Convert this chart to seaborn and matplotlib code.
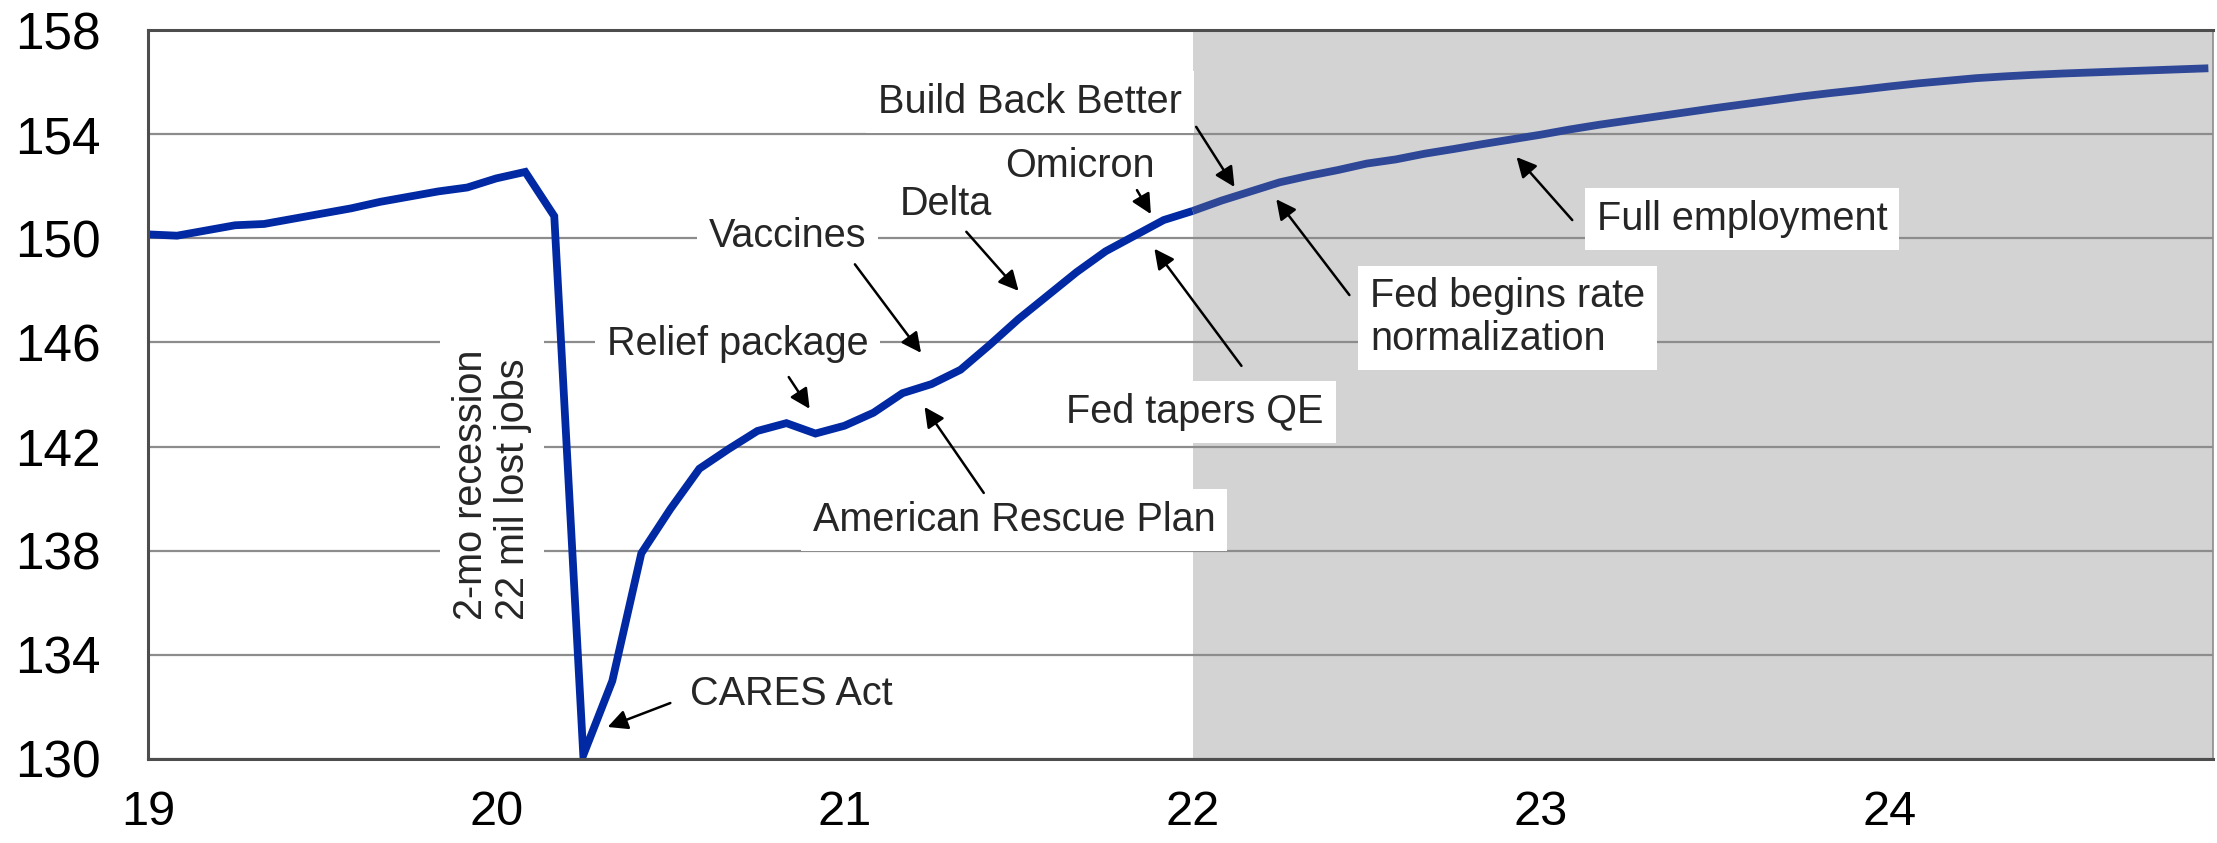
import matplotlib
matplotlib.use("Agg")
import matplotlib.pyplot as plt
import numpy as np
import pandas as pd
import seaborn as sns

# monthly payroll employment, millions (actual through 2021, projection after)
months = pd.period_range("2019-01", "2024-12", freq="M")
jobs_2019 = [150.15, 150.1, 150.3, 150.5, 150.55, 150.75, 150.95, 151.15, 151.4, 151.6, 151.8, 151.95]
jobs_2020 = [152.3, 152.55, 150.85, 130.15, 133.0, 137.9, 139.6, 141.15, 141.9, 142.6, 142.9, 142.5]
jobs_2021 = [142.8, 143.3, 144.05, 144.4, 144.95, 145.9, 146.9, 147.8, 148.7, 149.5, 150.1, 150.7]
jobs_2022 = [151.05, 151.45, 151.8, 152.15, 152.4, 152.62, 152.87, 153.03, 153.25, 153.43, 153.62, 153.8]
jobs_2023 = [153.98, 154.18, 154.36, 154.52, 154.68, 154.84, 155.0, 155.15, 155.3, 155.45, 155.58, 155.7]
jobs_2024 = [155.83, 155.95, 156.05, 156.15, 156.22, 156.28, 156.33, 156.37, 156.41, 156.45, 156.49, 156.53]
forecast_start = 22.0

y_ticks = [130, 134, 138, 142, 146, 150, 154, 158]
x_ticks = [19, 20, 21, 22, 23, 24]

# (label, text x, baseline y of last line, arrow from, arrow to)
events = [
    ("Build Back Better", 21.096, 154.81, (22.01, 154.28), (22.12, 151.97)),
    ("Omicron", 21.46, 152.35, (21.84, 151.85), (21.88, 150.93)),
    ("Delta", 21.16, 150.91, (21.35, 150.25), (21.50, 147.98)),
    ("Vaccines", 20.61, 149.67, (21.03, 149.0), (21.22, 145.6)),
    ("Relief package", 20.318, 145.5, (20.84, 144.67), (20.90, 143.45)),
    ("American Rescue Plan", 20.909, 138.77, (21.40, 140.22), (21.23, 143.52)),
    ("CARES Act", 20.556, 132.09, (20.50, 132.15), (20.32, 131.23)),
    ("Fed tapers QE", 21.637, 142.91, (22.14, 145.1), (21.89, 149.6)),
    ("Fed begins rate\nnormalization", 22.51, 145.71, (22.45, 147.82), (22.24, 151.5)),
    ("Full employment", 23.16, 150.32, (23.09, 150.7), (22.93, 153.12)),
]
boxed = {"Build Back Better", "Vaccines", "Relief package", "American Rescue Plan",
         "Fed tapers QE", "Fed begins rate\nnormalization", "Full employment"}

sns.set_style("white")
plt.rcParams["font.family"] = ["Liberation Sans", "DejaVu Sans"]

values = jobs_2019 + jobs_2020 + jobs_2021 + jobs_2022 + jobs_2023 + jobs_2024
x = np.array([p.year - 2000 + (p.month - 1) / 12 for p in months])
df = pd.DataFrame({"x": x, "jobs": values})
actual = df[df["x"] <= forecast_start].assign(segment="actual")
proj = df[df["x"] >= forecast_start].assign(segment="projection")
plot_df = pd.concat([actual, proj], ignore_index=True)

fig = plt.figure(figsize=(22.17, 8.43), dpi=100)
ax = fig.add_axes([148 / 2217, 1 - 759 / 843, (2213 - 148) / 2217, (759 - 30) / 843])

xmax = 24.93
ax.axvspan(forecast_start, xmax, color="#d3d3d3", zorder=0.2, lw=0)

sns.lineplot(data=plot_df, x="x", y="jobs", hue="segment", units="segment",
             estimator=None, sort=False, legend=False,
             palette={"actual": "#0029a3", "projection": "#2e4797"},
             linewidth=5.6, ax=ax, zorder=2)
for ln in ax.get_lines():
    ln.set_solid_joinstyle("miter")
    ln.set_solid_capstyle("butt")

ax.set_xlim(19, xmax)
ax.set_ylim(130, 158)
ax.set_xticks(x_ticks)
ax.set_xticklabels([str(t) for t in x_ticks])
ax.set_yticks(y_ticks)
ax.set_xlabel("")
ax.set_ylabel("")
ax.set_axisbelow(True)
ax.yaxis.grid(True, color="#8c8c8c", linewidth=1.6)
ax.xaxis.grid(False)

for side in ("left", "bottom", "top"):
    ax.spines[side].set_color("#4d4d4d")
    ax.spines[side].set_linewidth(2.2)
ax.spines["right"].set_color("#8c8c8c")
ax.spines["right"].set_linewidth(1.2)

ax.tick_params(axis="both", direction="inout", length=22, width=2,
               color="#4d4d4d", labelcolor="black")
ax.tick_params(axis="y", pad=23, labelsize=37)
ax.tick_params(axis="x", pad=11, labelsize=35)

box = dict(boxstyle="square,pad=0.3", facecolor="white", edgecolor="none")
for label, tx, ty, start, end in events:
    ax.text(tx, ty, label, fontsize=28.5, ha="left", va="baseline",
            linespacing=1.15, zorder=4,
            bbox=box if label in boxed else None)
    ax.annotate("", xy=end, xytext=start, zorder=5,
                arrowprops=dict(arrowstyle="-|>,head_length=0.6,head_width=0.3",
                                color="black", lw=1.8, mutation_scale=20,
                                shrinkA=0, shrinkB=0))

ax.text(19.988, 135.35, "2-mo recession\n22 mil lost jobs", fontsize=28.5,
        rotation=90, ha="center", va="bottom", multialignment="left",
        linespacing=1.15, zorder=4, bbox=box)

fig.savefig("out.png", dpi=100, facecolor="white")
